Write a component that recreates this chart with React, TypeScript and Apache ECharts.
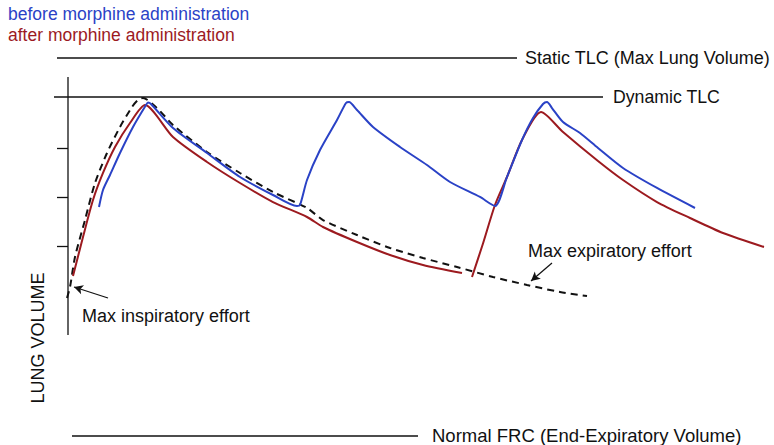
import React, { useEffect, useRef } from "react";
import * as echarts from "echarts";

// x: time (arbitrary units, 0 = volume axis); y: lung volume in % (Normal FRC = 0, Static TLC = 100)
const BLUE = "#2a42c6";
const RED = "#9c1a1f";
const INK = "#111111";
const FONT = "'Liberation Sans', Arial, Helvetica, sans-serif";

const legendNames = ["before morphine administration", "after morphine administration"];

const envelope: [number, number][] = [
  [-0.1, 36.51], [0.2, 39.42], [0.7, 47.35], [1.7, 57.14], [2.7, 66.93], [3.9, 74.87],
  [5.2, 81.75], [6.4, 87.04], [7.0, 88.89], [7.5, 89.42], [8.9, 86.77], [10.5, 82.28],
  [13.9, 75.13], [17.2, 69.58], [20.5, 64.55], [23.9, 60.32], [25.5, 57.14], [28.9, 53.17],
  [32.2, 49.74], [35.5, 47.09], [38.9, 44.71], [42.5, 42.06], [45.9, 39.95], [49.2, 38.1],
  [51.9, 37.04],
];

const beforeMorphine: [number, number][] = [
  [3.1, 60.58], [3.5, 65.08], [4.2, 69.05], [5.2, 74.87], [6.5, 81.75], [7.8, 87.57],
  [8.0, 88.23], [8.3, 87.83], [10.5, 81.48], [13.9, 74.87], [17.2, 68.52], [20.5, 63.76],
  [22.9, 60.85], [23.2, 61.11], [23.9, 67.72], [25.2, 75.66], [26.9, 83.6], [27.8, 88.1],
  [28.1, 88.36], [28.9, 86.24], [30.5, 81.75], [33.2, 76.46], [35.9, 71.69], [38.2, 67.2],
  [41.2, 63.23], [42.7, 60.85], [43.9, 68.52], [45.4, 78.31], [46.5, 84.13], [47.5, 87.83],
  [47.9, 88.36], [48.4, 86.77], [49.5, 83.07], [51.2, 80.16], [53.0, 76.19], [55.5, 70.9],
  [58.9, 65.61], [62.7, 60.32],
];

const afterMorphine1: [number, number][] = [
  [0.5, 42.33], [1.5, 52.65], [2.5, 62.43], [3.5, 69.58], [4.7, 76.46], [6.2, 82.8],
  [7.7, 87.57], [10.5, 79.1], [13.9, 72.49], [17.2, 66.93], [20.5, 61.9], [23.9, 57.94],
  [25.5, 55.29], [28.9, 51.32], [32.2, 47.88], [35.5, 45.24], [39.4, 43.12],
];

const afterMorphine2: [number, number][] = [
  [40.4, 42.06], [41.5, 50.93], [42.7, 61.11], [43.9, 68.52], [45.4, 78.31], [47.3, 85.71],
  [49.5, 80.42], [53.0, 72.75], [55.5, 67.72], [58.9, 61.9], [62.2, 57.67], [65.5, 53.7],
  [69.6, 50.0],
];

const staticTLC = { label: "Static TLC (Max Lung Volume)", value: 100, from: -1.1, to: 44.9 };
const dynamicTLC = { label: "Dynamic TLC", value: 89.68, from: -1.4, to: 53.5 };
const normalFRC = { label: "Normal FRC (End-Expiratory Volume)", value: 0, from: 0.4, to: 35.0 };

const axisRange: [number, number] = [26.72, 94.97];
const tickValues = [76.19, 63.23, 50.26];
const tickFrom = -1.1;

const annotations = [
  { text: "Max inspiratory effort", at: [1.4, 31.75] },
  { text: "Max expiratory effort", at: [46.0, 48.94] },
];
const arrows = [
  { from: [4.0, 36.51], to: [0.6, 39.42] },
  { from: [48.4, 45.77], to: [46.3, 41.01] },
];
const yName = { text: "LUNG VOLUME", at: [-3.0, 25.93] };

function refLine(
  r: { label: string; value: number; from: number; to: number },
  dist: number,
  size: number,
  dy: number
) {
  return {
    type: "line",
    silent: true,
    symbol: "none",
    data: [[r.from, r.value], [r.to, r.value]],
    lineStyle: { color: INK, width: 1.3 },
    endLabel: {
      show: true,
      formatter: r.label,
      distance: dist,
      offset: [0, dy],
      color: INK,
      fontSize: size,
      fontFamily: FONT,
    },
  };
}

const SMOOTH = 0.25;

export default function App() {
  const ref = useRef<HTMLDivElement>(null);
  useEffect(() => {
    document.body.style.margin = "0";
    const chart = echarts.init(ref.current!, undefined, { renderer: "svg" });
    chart.setOption({
      animation: false,
      backgroundColor: "#ffffff",
      grid: { left: 0, right: 0, top: 0, bottom: 0 },
      xAxis: { type: "value", min: -6.8, max: 70.6, show: false },
      yAxis: { type: "value", min: -9 / 3.78, max: 436 / 3.78, show: false },
      legend: {
        orient: "vertical",
        left: -2,
        top: -2,
        icon: "none",
        itemWidth: 0,
        itemHeight: 10,
        itemGap: 0,
        selectedMode: false,
        data: [
          { name: legendNames[0], textStyle: { color: BLUE } },
          { name: legendNames[1], textStyle: { color: RED } },
        ],
        textStyle: { fontSize: 17.5, fontFamily: FONT, lineHeight: 21 },
      },
      series: [
        refLine(staticTLC, 8, 18, 0),
        refLine(dynamicTLC, 10, 17.7, 0),
        refLine(normalFRC, 14, 18.5, -1),
        {
          type: "line",
          silent: true,
          symbol: "none",
          data: [[0, axisRange[0]], [0, axisRange[1]]],
          lineStyle: { color: INK, width: 1.3 },
          markLine: {
            silent: true,
            symbol: "none",
            label: { show: false },
            lineStyle: { color: INK, width: 1.3, type: "solid" },
            data: tickValues.map((v) => [{ coord: [tickFrom, v] }, { coord: [0, v] }]),
          },
        },
        {
          type: "line",
          name: "max effort",
          silent: true,
          symbol: "none",
          smooth: SMOOTH,
          data: envelope,
          lineStyle: { color: "#111", width: 2, type: [7, 5] },
          markLine: {
            silent: true,
            symbol: ["none", "arrow"],
            symbolSize: [7, 9],
            label: { show: false },
            lineStyle: { color: INK, width: 1.2, type: "solid" },
            data: arrows.map((a) => [{ coord: a.from }, { coord: a.to }]),
          },
        },
        {
          type: "line",
          name: legendNames[1],
          silent: true,
          symbol: "none",
          smooth: SMOOTH,
          color: RED,
          data: afterMorphine1,
          lineStyle: { color: RED, width: 2 },
        },
        {
          type: "line",
          name: legendNames[1],
          silent: true,
          symbol: "none",
          smooth: SMOOTH,
          color: RED,
          data: afterMorphine2,
          lineStyle: { color: RED, width: 2 },
        },
        {
          type: "line",
          name: legendNames[0],
          silent: true,
          symbol: "none",
          smooth: SMOOTH,
          color: BLUE,
          data: beforeMorphine,
          lineStyle: { color: BLUE, width: 2 },
        },
        {
          type: "scatter",
          silent: true,
          symbolSize: 0,
          itemStyle: { opacity: 1 },
          data: annotations.map((a) => ({ value: a.at, name: a.text })),
          label: {
            show: true,
            position: "right",
            distance: 0,
            opacity: 1,
            formatter: (p: any) => p.name,
            color: INK,
            fontSize: 18,
            fontFamily: FONT,
          },
        },
        {
          type: "scatter",
          silent: true,
          symbolSize: 0,
          itemStyle: { opacity: 1 },
          data: [{ value: yName.at, name: yName.text }],
          label: {
            show: true,
            position: "inside",
            rotate: 90,
            opacity: 1,
            formatter: (p: any) => p.name,
            color: INK,
            fontSize: 18,
            fontFamily: FONT,
          },
        },
      ],
    });
    return () => chart.dispose();
  }, []);
  return <div ref={ref} style={{ width: 774, height: 445 }} />;
}
